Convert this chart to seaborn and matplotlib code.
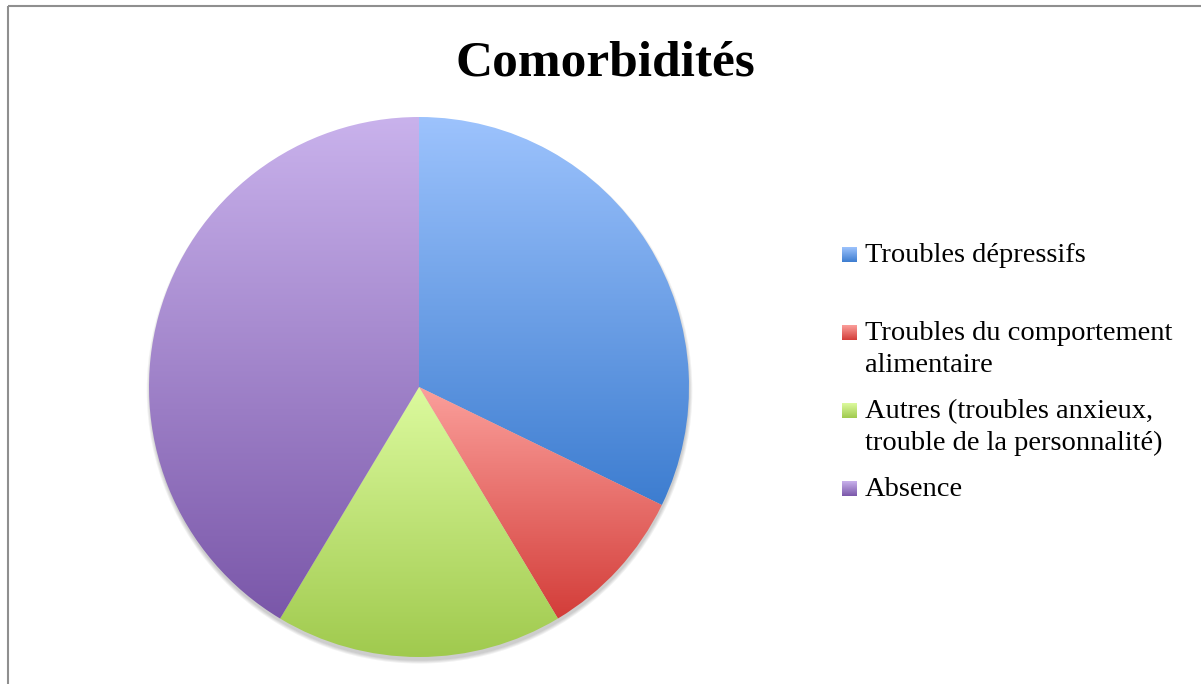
import numpy as np
import seaborn as sns
import matplotlib.pyplot as plt
from matplotlib.patches import Rectangle, Circle

# Données du graphique (pourcentages)
categories = ["Troubles dépressifs",
              "Troubles du comportement\nalimentaire",
              "Autres (troubles anxieux,\ntrouble de la personnalité)",
              "Absence"]
pourcentages = [32.2, 9.2, 17.2, 41.4]
couleurs_haut = ["#9DC3FD", "#FB9F9B", "#DCFA9E", "#C9B2EC"]
couleurs_bas = ["#3D7DD0", "#D33D39", "#A0CA4E", "#7A57A9"]
titre = "Comorbidités"

sns.set_theme(style="white")
plt.rcParams["font.family"] = ["Liberation Serif", "DejaVu Serif"]

W, H = 1201, 684
fig = plt.figure(figsize=(W / 100, H / 100), dpi=100)

# Camembert : centre (419, 387) px, rayon 270 px
cx, cy, r = 419, 387, 270
ax = fig.add_axes([(cx - r) / W, (H - cy - r) / H, 2 * r / W, 2 * r / H])

# ombre douce sous le camembert (surtout en bas)
for k in range(4):
    ax.add_patch(Circle((0.002, -0.014), 1 + 0.0035 * k, color="black",
                        alpha=0.05, lw=0, zorder=0, clip_on=False))

wedges, _ = ax.pie(pourcentages, startangle=90, counterclock=False, radius=1,
                   wedgeprops=dict(linewidth=0))

# Dégradé vertical dans chaque secteur
grad = np.linspace(0, 1, 256).reshape(-1, 1)
for w, c0, c1 in zip(wedges, couleurs_haut, couleurs_bas):
    cmap = sns.blend_palette([c0, c1], as_cmap=True)
    ext = w.get_path().get_extents()
    im = ax.imshow(grad, cmap=cmap, extent=[ext.x0, ext.x1, ext.y0, ext.y1],
                   aspect="auto", origin="upper", interpolation="bilinear", zorder=1)
    im.set_clip_path(w)
    w.set_facecolor("none")
ax.set_xlim(-1, 1)
ax.set_ylim(-1, 1)
ax.axis("off")

# Calque en pixels pour le cadre, le titre et la légende
lax = fig.add_axes([0, 0, 1, 1], zorder=-1)
lax.add_patch(Rectangle((8, 6), W, H, fill=False, edgecolor="#8f8f8f", lw=1.5))
lax.text(605, 75, titre, ha="center", va="baseline", fontsize=37,
         fontweight="bold", color="black")

for i, (lab, c0, c1) in enumerate(zip(categories, couleurs_haut, couleurs_bas)):
    yb = 262 + 78 * i
    cmap = sns.blend_palette([c0, c1], as_cmap=True)
    lax.imshow(grad, cmap=cmap, extent=[842, 857, yb, yb - 15],
               aspect="auto", origin="upper")
    for j, ligne in enumerate(lab.split("\n")):
        lax.text(865, yb + 32 * j, ligne, ha="left", va="baseline",
                 fontsize=20.5, color="black")

lax.set_xlim(0, W)
lax.set_ylim(H, 0)
lax.axis("off")

fig.savefig("out.png", dpi=100)
